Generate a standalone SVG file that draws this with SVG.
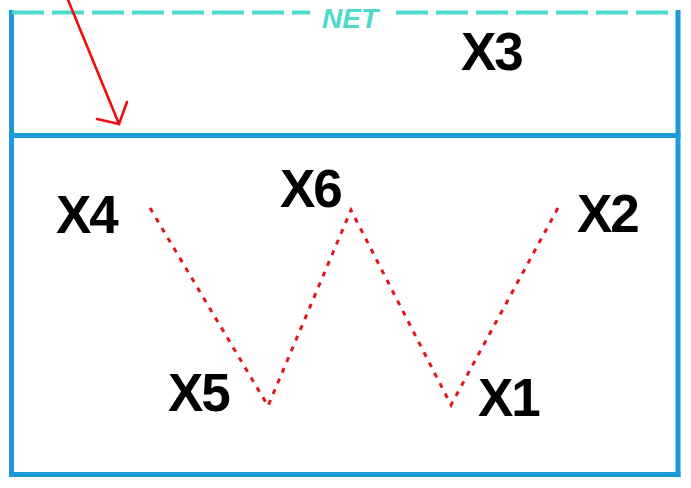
<svg xmlns="http://www.w3.org/2000/svg" width="691" height="488" viewBox="0 0 691 488">
  <style>
    .frame { stroke: #1c9bd8; stroke-width: 5; fill: none; }
    .net { stroke: #4cdacd; stroke-width: 4; stroke-dasharray: 32 8; fill: none; }
    .netlabel { font-family: "Liberation Sans", Arial, sans-serif; font-weight: bold; font-style: italic; font-size: 28px; fill: #4cdacd; }
    .lbl { font-family: "Liberation Sans", Arial, sans-serif; font-weight: bold; font-size: 53px; letter-spacing: -2px; fill: #000; }
    .dotted { stroke: #e3161c; stroke-width: 3; stroke-dasharray: 5 6.6; fill: none; }
    .arrow { stroke: #f00d0d; stroke-width: 2.6; fill: none; stroke-linecap: round; }
  </style>
  <rect width="691" height="488" fill="#ffffff"/>
  <g id="frame">
    <line class="frame" x1="11.5" y1="10" x2="11.5" y2="477"/>
    <line class="frame" x1="678" y1="10" x2="678" y2="477"/>
    <line class="frame" x1="9" y1="474.5" x2="680.5" y2="474.5"/>
    <line class="frame" x1="9" y1="135.5" x2="680.5" y2="135.5"/>
  </g>
  <g id="net">
    <line class="net" x1="12" y1="12.5" x2="310" y2="12.5"/>
    <line class="net" x1="396" y1="12.5" x2="668" y2="12.5"/>
    <text class="netlabel" x="322" y="28">NET</text>
  </g>
  <g id="connectors">
    <polyline class="dotted" points="150,208 268,406 351,210 451,405 559,206"/>
    <g class="arrow">
      <line x1="66" y1="-5" x2="119" y2="124"/>
      <polyline points="97,119 119,124 127,102"/>
    </g>
  </g>
  <g id="X3"><text class="lbl" x="461" y="70">X3</text></g>
  <g id="X4"><text class="lbl" x="56" y="233">X4</text></g>
  <g id="X6"><text class="lbl" x="280" y="207">X6</text></g>
  <g id="X2"><text class="lbl" x="577" y="232">X2</text></g>
  <g id="X5"><text class="lbl" x="168" y="411">X5</text></g>
  <g id="X1"><text class="lbl" x="478" y="416">X1</text></g>
</svg>
